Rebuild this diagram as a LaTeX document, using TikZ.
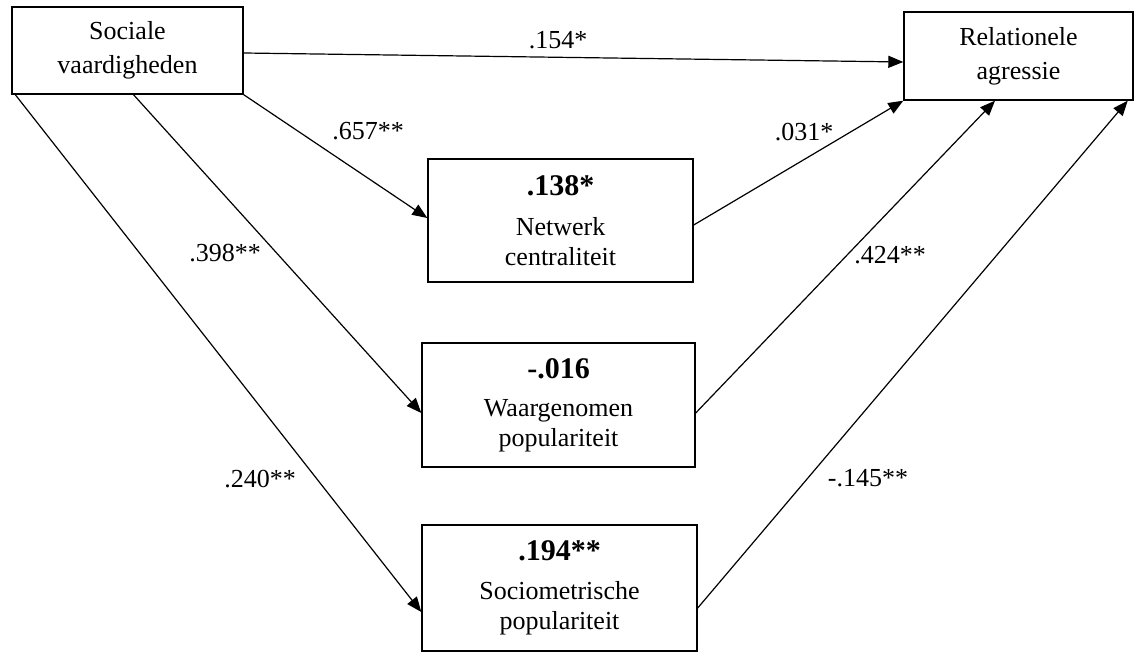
\documentclass[tikz,border=0pt]{standalone}
\usepackage{fontspec}
\setmainfont{Liberation Serif}
\usetikzlibrary{arrows.meta}

\newcommand{\indeffect}[1]{{\fontsize{30}{30}\selectfont\bfseries #1}}

\begin{document}
\begin{tikzpicture}[x=1pt, y=-1pt,
  box/.style={draw=black, line width=1.4pt, rectangle, inner sep=0pt, align=center},
  mainbox/.style={box, font=\fontsize{26}{34}\selectfont},
  medbox/.style={box, font=\fontsize{26}{30}\selectfont},
  coef/.style={inner sep=0pt, font=\fontsize{26}{30}\selectfont},
  pijl/.style={draw=black, line width=1.2pt, -{Triangle[length=15pt, width=12pt]}}]
  \useasboundingbox (0,0) rectangle (1134,652);

  \node[mainbox, minimum width=231pt, minimum height=87pt] (sv) at (127.5,50.5) {Sociale\\vaardigheden};
  \node[mainbox, minimum width=229pt, minimum height=88pt] (ra) at (1018.5,56) {Relationele\\agressie};

  \node[medbox, minimum width=265pt, minimum height=123pt] (nc) at (560.5,220.5) {\indeffect{.138*}\\[10pt]Netwerk\\centraliteit};
  \node[medbox, minimum width=273pt, minimum height=124pt] (wg) at (558.5,405) {\indeffect{-.016}\\[8pt]Waargenomen\\populariteit};
  \node[medbox, minimum width=275pt, minimum height=126pt] (sm) at (559.5,588) {\indeffect{.194**}\\[9pt]Sociometrische\\populariteit};

  \draw[pijl] ([yshift=-2.5pt]sv.east) -- ([yshift=-6pt]ra.west);
  \draw[pijl] (sv.south east) -- ([yshift=2.5pt]nc.west);
  \draw[pijl] ([xshift=6pt]sv.south) -- ([yshift=-8pt]wg.west);
  \draw[pijl] ([xshift=4pt]sv.south west) -- ([yshift=-24pt]sm.west);
  \draw[pijl] ([yshift=-4.5pt]nc.east) -- (ra.south west);
  \draw[pijl] ([yshift=-8pt]wg.east) -- ([xshift=-23.5pt]ra.south);
  \draw[pijl] ([yshift=-20pt]sm.east) -- ([xshift=-6pt]ra.south east);

  \node[coef] (c154) at (558,40) {.154*};
  \node[coef] (c657) at (368,131) {.657**};
  \node[coef] (c398) at (225,253) {.398**};
  \node[coef] (c240) at (260,479) {.240**};
  \node[coef] (c031) at (804,132) {.031*};
  \node[coef] (c424) at (890,255) {.424**};
  \node[coef] (c145) at (868,478) {-.145**};
\end{tikzpicture}
\end{document}
